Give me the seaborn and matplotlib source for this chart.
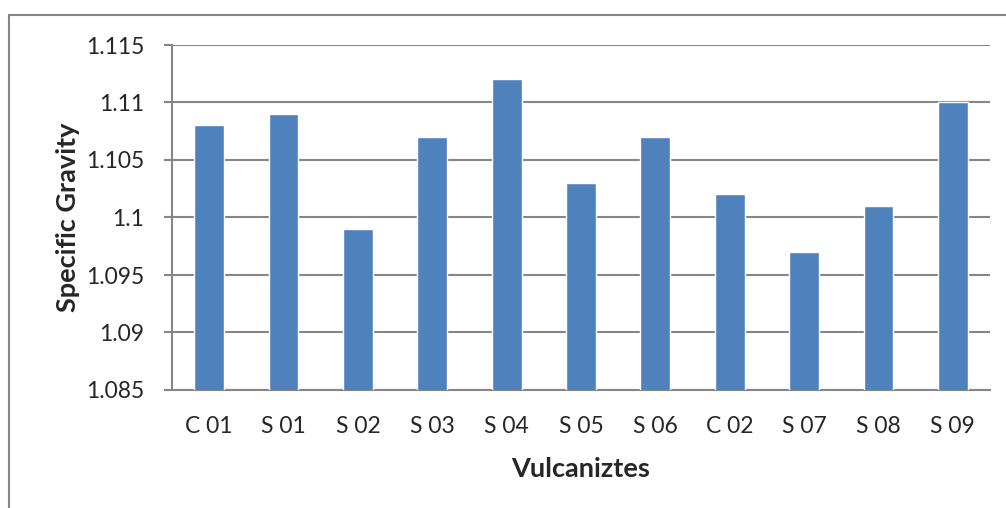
import matplotlib
matplotlib.use("Agg")
import matplotlib.pyplot as plt
import seaborn as sns
import pandas as pd
from matplotlib.patches import Rectangle

samples = ["C 01", "S 01", "S 02", "S 03", "S 04", "S 05", "S 06", "C 02", "S 07", "S 08", "S 09"]
gravity = [1.108, 1.109, 1.099, 1.107, 1.112, 1.103, 1.107, 1.102, 1.097, 1.101, 1.110]
y_ticks = [1.085, 1.09, 1.095, 1.1, 1.105, 1.11, 1.115]
y_tick_labels = ["1.085", "1.09", "1.095", "1.1", "1.105", "1.11", "1.115"]

sns.set_theme(style="white")
plt.rcParams["font.family"] = ["Lato", "DejaVu Sans"]

df = pd.DataFrame({"sample": samples, "sg": gravity})

fig = plt.figure(figsize=(10.06, 5.08), dpi=100)
ax = fig.add_axes([172 / 1006, 1 - 390 / 508, (990 - 172) / 1006, (390 - 45) / 508])

grid_col = "#868686"
sns.barplot(data=df, x="sample", y="sg", order=samples, color="#4F81BD",
            saturation=1, width=0.4, ax=ax, zorder=3)

ax.set_ylim(1.085, 1.115)
ax.set_xlim(-0.5, len(samples) - 0.5)
ax.set_yticks(y_ticks)
ax.set_yticklabels(y_tick_labels)
ax.yaxis.grid(True, color=grid_col, linewidth=1.5, zorder=0)
ax.set_axisbelow(True)

for side in ["top", "right"]:
    ax.spines[side].set_visible(False)
for side in ["left", "bottom"]:
    ax.spines[side].set_color(grid_col)
    ax.spines[side].set_linewidth(1.5)

ax.tick_params(axis="y", which="major", length=6, width=1.5, color=grid_col,
               labelsize=16.5, pad=14, left=True)
ax.tick_params(axis="x", length=0, labelsize=16.5, pad=19)

ax.set_xlabel("Vulcaniztes", fontsize=19.5, fontweight="bold", labelpad=14)
ax.set_ylabel("Specific Gravity", fontsize=19.5, fontweight="bold", labelpad=4)

# outer chart frame
fig.patches.append(Rectangle((9 / 1006, -0.1), 1.2, 1 - 15 / 508 + 0.1,
                             transform=fig.transFigure, fill=False,
                             edgecolor=grid_col, linewidth=1.5))

fig.savefig("out.png", dpi=100)
